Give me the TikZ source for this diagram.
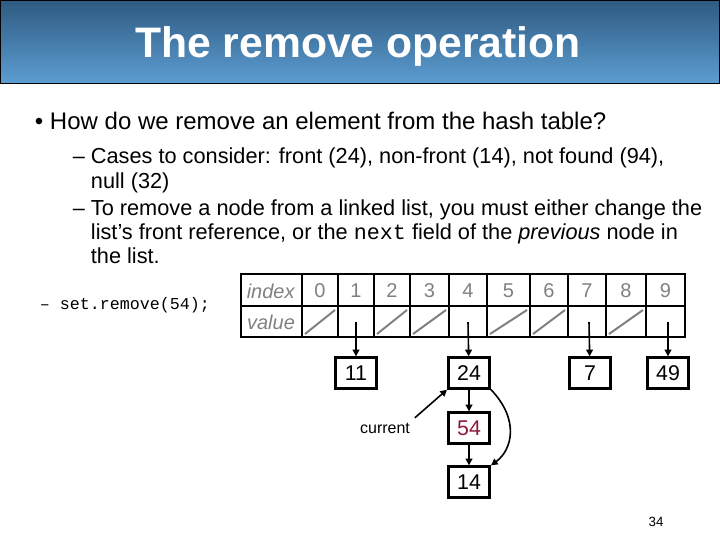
\documentclass[tikz,border=0pt]{standalone}
\usepackage{fontspec}
\setmainfont{Liberation Sans}
\setmonofont{Liberation Mono}
\usetikzlibrary{arrows.meta}
\definecolor{barTop}{HTML}{2E5A80}
\definecolor{barBot}{HTML}{5C9DD2}
\definecolor{nullGray}{HTML}{808080}
\definecolor{darkRed}{HTML}{8B1A3A}
\tikzset{every picture/.style={line width=0.75pt}}
\tikzset{
  cell/.style={draw,line width=2pt,minimum width=31pt,minimum height=23pt,inner sep=0pt,font=\fontsize{16}{18}\selectfont},
  link/.style={-{Triangle[length=5pt,width=5pt]},line width=1.2pt},
  hdr/.style={text=nullGray,font=\fontsize{15}{18}\selectfont}
}
\begin{document}
\begin{tikzpicture}[x=0.75pt,y=0.75pt,yscale=-1,xscale=1]
\useasboundingbox (0,0) rectangle (720,540);
% Title bar
\shade[top color=barTop,bottom color=barBot,draw=black] (0,0) rectangle (719.5,83);
\node[text=white,font=\fontsize{32}{36}\selectfont\bfseries] (title) at (358,46) {The remove operation};
% Text Node
\node[anchor=west,font=\fontsize{18}{21}\selectfont] (b1) at (30,121) {\textbullet\ How do we remove an element from the hash table?};
\node[anchor=north west,align=left,font=\fontsize{16.3}{18.3}\selectfont] (b2) at (86,143) {%
\llap{– }Cases to consider: front (24), non-front (14), not found (94),\\
null (32)\\[2pt]
\llap{– }To remove a node from a linked list, you must either change the\\
list's front reference, or the {\ttfamily next} field of the \emph{previous} node in\\
the list.};
\node[anchor=west,font=\ttfamily\fontsize{12.5}{14}\selectfont] (call) at (35,305) {– set.remove(54);};
% table
\draw[line width=2pt] (241,274) rectangle (685,337);
\draw[line width=1pt] (241,306) -- (685,306);
\foreach \x in {302,338,374,410,449,487,530,568,606,646}
  \draw[line width=1pt] (\x,274) -- (\x,337);
\node[hdr] (ih) at (271,291) {\emph{index}};
\node[hdr] (vh) at (271,322) {\emph{value}};
\foreach \n/\xa/\xb in {0/302/338,1/338/374,2/374/410,3/410/449,4/449/487,5/487/530,6/530/568,7/568/606,8/606/646,9/646/685}
  \node[hdr] (i\n) at ({(\xa+\xb)/2},291) {\n};
\foreach \xa/\xb in {302/338,374/410,410/449,487/530,530/568,606/646}
  \draw[nullGray,line width=1.5pt] (\xa+3,334) -- (\xb-3,310);
\coordinate (v1) at (356,322);
\coordinate (v4) at (468,322);
\coordinate (v7) at (589,322);
\coordinate (v9) at (668,322);
% list nodes
\node[cell] (n11) at (356,373) {11};
\node[cell] (n24) at (469,373) {24};
\node[cell] (n7) at (590,373) {7};
\node[cell] (n49) at (668,373) {49};
\node[cell,text=darkRed] (n54) at (469,428) {54};
\node[cell] (n14) at (469,482) {14};
\draw[link] (v1) -- (n11);
\draw[link] (v4) -- (n24);
\draw[link] (v7) -- (n7);
\draw[link] (v9) -- (n49);
\draw[link] (n24) -- (n54);
\draw[link] (n54) -- (n14);
\draw[link] (n24.south east) .. controls (520,420) and (512,450) .. (n14.north east);
\node[font=\fontsize{12}{14}\selectfont] (cur) at (385,428) {current};
\draw[link] (cur.north east) -- (n24.south west);
\node[font=\fontsize{10}{12}\selectfont] (pg) at (656,522) {34};
\end{tikzpicture}
\end{document}
